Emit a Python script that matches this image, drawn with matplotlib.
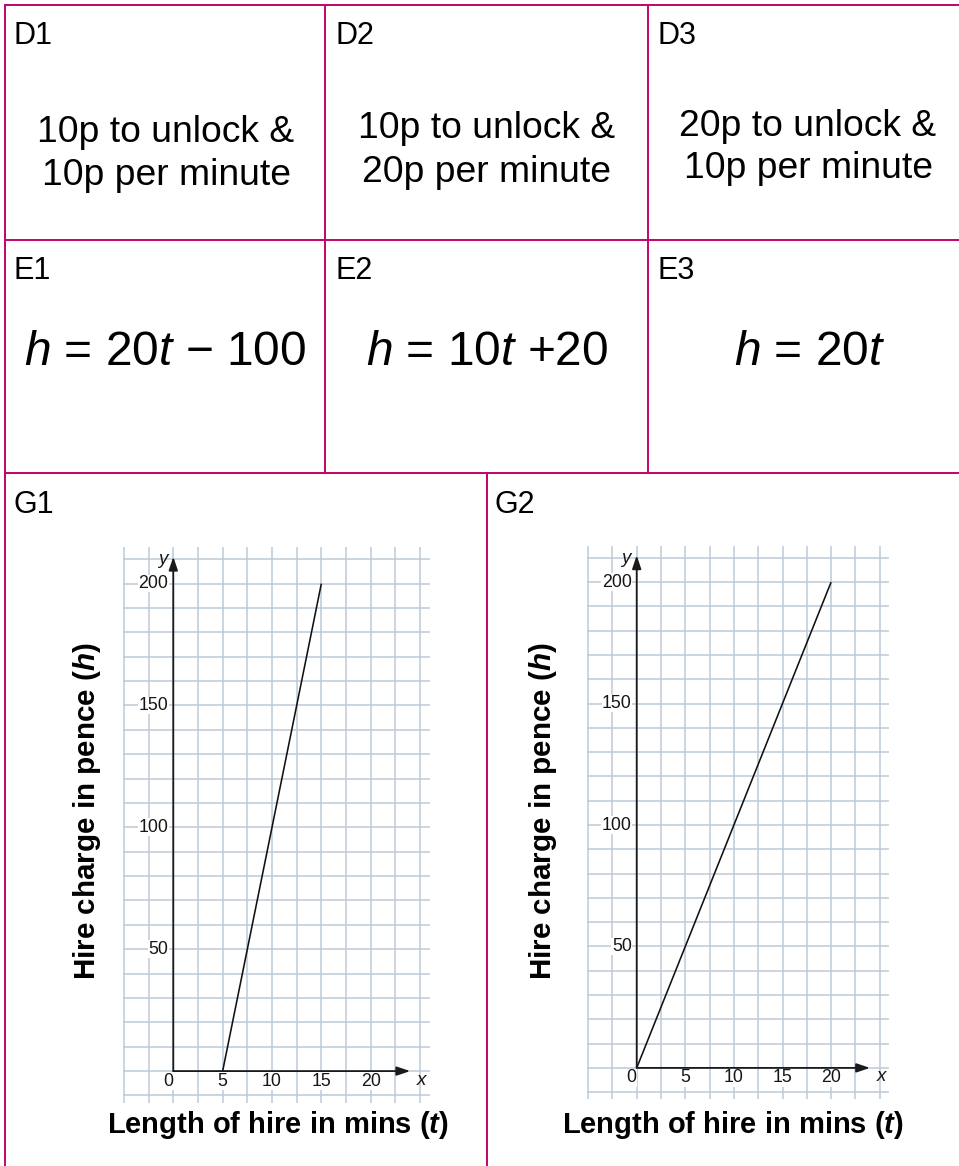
import numpy as np
import matplotlib
matplotlib.use('Agg')
import matplotlib.pyplot as plt
from matplotlib.transforms import ScaledTranslation

plt.rcParams['font.family'] = ['Liberation Sans', 'DejaVu Sans']
plt.rcParams['mathtext.fontset'] = 'custom'
plt.rcParams['mathtext.rm'] = 'Liberation Sans'
plt.rcParams['mathtext.it'] = 'Liberation Sans:italic'
plt.rcParams['mathtext.bf'] = 'Liberation Sans:bold'
plt.rcParams['mathtext.bfit'] = 'Liberation Sans:italic:bold'

# ---------------- data ----------------
d_labels = ["D1", "D2", "D3"]
d_lines = [["10p to unlock &", "10p per minute"],
           ["10p to unlock &", "20p per minute"],
           ["20p to unlock &", "10p per minute"]]
e_labels = ["E1", "E2", "E3"]
e_equations = [r"$h$ = 20$t$ − 100", r"$h$ = 10$t$ +20", r"$h$ = 20$t$"]
g_labels = ["G1", "G2"]
g1_t = [5, 15]
g1_h = [0, 200]
g2_t = [0, 20]
g2_h = [0, 200]
x_tick_vals = [5, 10, 15, 20]
y_tick_vals = [50, 100, 150, 200]
x_axis_label = r"Length of hire in mins ($\mathbfit{t}$)"
y_axis_label = r"Hire charge in pence ($\mathbfit{h}$)"

# ---------------- figure ----------------
W, H = 959, 1166
fig = plt.figure(figsize=(W / 100, H / 100), dpi=100)
bg = fig.add_axes([0, 0, 1, 1])
bg.set_xlim(0, W)
bg.set_ylim(H, 0)
bg.axis('off')

MAG = '#c0046c'
TLW = 1.4

def hline(y, x0, x1):
    bg.plot([x0, x1], [y, y], color=MAG, lw=TLW, solid_capstyle='projecting')

def vline(x, y0, y1):
    bg.plot([x, x], [y0, y1], color=MAG, lw=TLW, solid_capstyle='projecting')

hline(5, 5, W)
hline(239.7, 5, W)
hline(473.3, 5, W)
vline(5, 5, H)
vline(325.3, 5, 473.3)
vline(647.5, 5, 473.3)
vline(487, 473.3, H)

# cell labels
lab_fs = 22
d_left = [14, 335, 657]
for lab, x in zip(d_labels, d_left):
    bg.text(x, 44, lab, fontsize=lab_fs, ha='left', va='baseline')
for lab, x in zip(e_labels, d_left):
    bg.text(x, 279, lab, fontsize=lab_fs, ha='left', va='baseline')
for lab, x in zip(g_labels, [13.5, 494]):
    bg.text(x, 513, lab, fontsize=lab_fs, ha='left', va='baseline')

# D texts
d_centers = [166, 487, 808]
d_baselines = [(142, 185), (138, 182), (136, 178)]
for lines, cx, bls in zip(d_lines, d_centers, d_baselines):
    for line, by in zip(lines, bls):
        bg.text(cx, by, line, fontsize=26.8, ha='center', va='baseline')

# E equations
e_centers = [165.5, 487.5, 810]
for eq, cx in zip(e_equations, e_centers):
    bg.text(cx, 365, eq, fontsize=34.5, ha='center', va='baseline')

# ---------------- graphs ----------------
GRID = '#bccad7'
AX = '#1a1a1a'
TICK_C = '#161616'
TFS = 12.8

def make_graph(ox, oy, sx, sy, t, h, xlim=(-5.1, 26), ylim=(-13, 215)):
    left = ox + sx * xlim[0]
    right = ox + sx * xlim[1]
    top = oy - sy * ylim[1]
    bottom = oy - sy * ylim[0]
    ax = fig.add_axes([left / W, 1 - bottom / H, (right - left) / W, (bottom - top) / H])
    ax.set_xlim(*xlim)
    ax.set_ylim(*ylim)
    ax.set_xticks(np.arange(-5, 25.01, 2.5))
    ax.set_yticks(np.arange(-10, 210.01, 10))
    ax.grid(True, color=GRID, lw=1.1)
    ax.set_axisbelow(True)
    ax.tick_params(length=0, labelbottom=False, labelleft=False)
    for s in ax.spines.values():
        s.set_visible(False)
    ax.patch.set_alpha(0)

    arrow = dict(arrowstyle='-|>,head_length=0.8,head_width=0.27', color=AX,
                 lw=1.3, shrinkA=0, shrinkB=0, mutation_scale=10)
    ax.annotate('', xy=(0, 211), xytext=(0, 0), arrowprops=arrow, zorder=6)
    ax.annotate('', xy=(24, 0), xytext=(0, 0), arrowprops=arrow, zorder=6)

    ax.plot(t, h, color='#111111', lw=1.15, solid_capstyle='butt', zorder=5)

    def off(dx, dy):
        return ax.transData + ScaledTranslation(dx / 100, dy / 100, fig.dpi_scale_trans)

    box = dict(facecolor='white', edgecolor='none', pad=0.3)
    for v in y_tick_vals:
        ax.text(0, v, str(v), transform=off(-5, 0), ha='right', va='center',
                fontsize=TFS, color=TICK_C, bbox=box, zorder=3)
    for v in x_tick_vals:
        ax.text(v, 0, str(v), transform=off(0, -10), ha='center', va='center',
                fontsize=TFS, color=TICK_C, bbox=box, zorder=3)
    ax.text(0, 0, '0', transform=off(-5, -10), ha='center', va='center',
            fontsize=TFS, color=TICK_C, bbox=box, zorder=3)
    ax.text(0, 211, 'y', transform=off(-11, -3), ha='center', va='center',
            fontsize=13.5, style='italic', color=TICK_C, zorder=3)
    ax.text(24, 0, 'x', transform=off(11, -9), ha='center', va='center',
            fontsize=13.5, style='italic', color=TICK_C, zorder=3)
    return ax

make_graph(173.3, 1071.1, 9.87, 2.4375, g1_t, g1_h)
make_graph(636.7, 1067.9, 9.72, 2.429, g2_t, g2_h)

# axis titles
for cx in [87, 543]:
    bg.text(cx, 811, y_axis_label, rotation=90, fontsize=21.3, fontweight='bold',
            ha='center', va='center')
for cx in [277.5, 733]:
    bg.text(cx, 1133, x_axis_label, fontsize=21, fontweight='bold',
            ha='center', va='baseline')

fig.savefig('out.png', dpi=100)
